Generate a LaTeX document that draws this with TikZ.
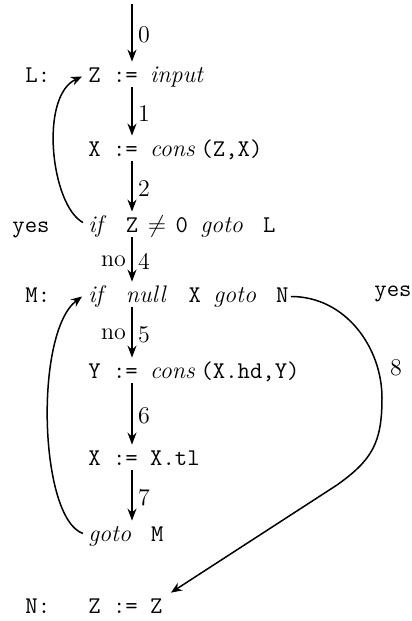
\documentclass[tikz,border=0pt]{standalone}
\usetikzlibrary{arrows.meta}

% one column of the typewriter grid
\newlength{\cw}
\setlength{\cw}{6.3pt}
\newcommand{\kw}[2]{\makebox[#1\cw][l]{\rmfamily\itshape #2}}

\begin{document}
\begin{tikzpicture}[x=0.5pt, y=-0.5pt,
    stmt/.style={anchor=base west, inner sep=0pt, text height=7pt, text depth=1.5pt,
      font=\ttfamily\fontsize{12}{14}\selectfont},
    flow/.style={-{Stealth[length=6pt,width=4.5pt]}, line width=1pt,
      shorten <=1pt, shorten >=3pt},
    jump/.style={-{Stealth[length=5.5pt,width=4.5pt]}, line width=0.75pt},
    num/.style={font=\fontsize{12}{14}\selectfont, inner sep=2.5pt}]
  \useasboundingbox (0,0) rectangle (412,621);

  % statements
  \node[stmt] (L1) at (88,82)  {Z := \kw5{input}};
  \node[stmt] (X1) at (88,156) {X := \kw4{cons}(Z,X)};
  \node[stmt] (if1) at (88,232) {\kw2{if} Z \makebox[\cw]{$\neq$} 0 \kw4{goto} L};
  \node[stmt] (M1) at (88,302) {\kw2{if} \kw4{null} X \kw4{goto} N};
  \node[stmt] (Y1) at (88,378) {Y := \kw4{cons}(X.hd,Y)};
  \node[stmt] (X2) at (88,465) {X := X.tl};
  \node[stmt] (G1) at (88,541) {\kw4{goto} M};
  \node[stmt] (N1) at (88,613) {Z := Z};

  % labels
  \node[stmt] (labL) at (25,82)  {L:};
  \node[stmt] (labM) at (25,302) {M:};
  \node[stmt] (labN) at (25,613) {N:};
  \node[stmt] (yes1) at (12,232) {yes};
  \node[stmt] (yes2) at (374,296) {yes};
  \node[num] (lab8) at (396,368) {8};

  \coordinate (col) at (132,0);
  \coordinate (top) at (132,2);
  \coordinate (bend8) at (382,398);
  \coordinate (kink8) at (337,485);

  \draw[flow] (top) -- node[num,right] {0} (L1.north -| col);
  \draw[flow] (L1.south -| col) -- node[num,right] {1} (X1.north -| col);
  \draw[flow] (X1.south -| col) -- node[num,right] {2} (if1.north -| col);
  \draw[flow] (if1.south -| col) -- node[num,left] {no} node[num,right] {4} (M1.north -| col);
  \draw[flow] (M1.south -| col) -- node[num,left] {no} node[num,right] {5} (Y1.north -| col);
  \draw[flow] (Y1.south -| col) -- node[num,right] {6} (X2.north -| col);
  \draw[flow] (X2.south -| col) -- node[num,right] {7} (G1.north -| col);

  % back edges and the exit
  \draw[jump] ([shift={(-2.5pt,2pt)}]if1.west) .. controls +(-32,-17) and +(-43,20) .. ([xshift=-3pt]L1.west);
  \draw[jump] ([shift={(-2.5pt,1pt)}]G1.west) .. controls +(-44,-15) and +(-48,36) .. ([xshift=-3pt]M1.west);
  \draw[jump] ([xshift=1pt]M1.east) .. controls +(55,0) and +(0,-50) .. (bend8)
    .. controls +(0,45) and +(35,-25) .. (kink8) -- ([shift={(4pt,3pt)}]N1.north east);
\end{tikzpicture}
\end{document}
